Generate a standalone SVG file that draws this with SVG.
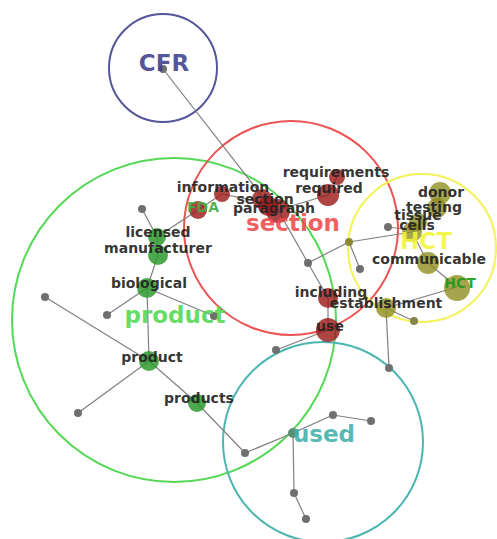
<svg xmlns="http://www.w3.org/2000/svg" width="497" height="539" viewBox="0 0 497 539">
  <style>
    .ring { fill: none; stroke-width: 2; }
    .edge { stroke: #7f7f7f; stroke-width: 1.2; fill: none; }
    .dot { fill: #6f6f6f; }
    .red { fill: #9a1717; fill-opacity: 0.8; }
    .grn { fill: #2f9a2f; fill-opacity: 0.85; }
    .olv { fill: #8f8f22; fill-opacity: 0.8; }
    .lbl { font-family: "DejaVu Sans", sans-serif; font-weight: bold; font-size: 14px; fill: #222222; fill-opacity: 0.92; text-anchor: middle; }
    .big { font-family: "DejaVu Sans", sans-serif; font-weight: bold; font-size: 23px; text-anchor: middle; fill-opacity: 0.88; }
  </style>
  <rect width="497" height="539" fill="#ffffff"/>

  <!-- community rings -->
  <g id="rings">
    <circle class="ring" cx="163" cy="68" r="54" stroke="#55559c"/>
    <circle class="ring" cx="174" cy="320" r="162" stroke="#55d855"/>
    <circle class="ring" cx="291" cy="228" r="107" stroke="#ec5454"/>
    <circle class="ring" cx="323" cy="442" r="100" stroke="#4bb5b0"/>
    <circle class="ring" cx="422" cy="248" r="74" stroke="#f2f25a"/>
  </g>

  <!-- connectors -->
  <g id="edges">
    <line class="edge" x1="163" y1="69" x2="266" y2="201"/>
    <line class="edge" x1="222" y1="194" x2="266" y2="203"/>
    <line class="edge" x1="198" y1="210" x2="222" y2="194"/>
    <line class="edge" x1="198" y1="210" x2="157" y2="237"/>
    <line class="edge" x1="157" y1="237" x2="142" y2="209"/>
    <line class="edge" x1="157" y1="237" x2="158" y2="255"/>
    <line class="edge" x1="158" y1="255" x2="147" y2="288"/>
    <line class="edge" x1="147" y1="288" x2="107" y2="315"/>
    <line class="edge" x1="147" y1="288" x2="149" y2="361"/>
    <line class="edge" x1="147" y1="288" x2="214" y2="316"/>
    <line class="edge" x1="149" y1="361" x2="45" y2="297"/>
    <line class="edge" x1="149" y1="361" x2="78" y2="413"/>
    <line class="edge" x1="149" y1="361" x2="197" y2="403"/>
    <line class="edge" x1="197" y1="403" x2="245" y2="453"/>
    <line class="edge" x1="245" y1="453" x2="293" y2="433"/>
    <line class="edge" x1="293" y1="433" x2="333" y2="415"/>
    <line class="edge" x1="333" y1="415" x2="371" y2="421"/>
    <line class="edge" x1="293" y1="433" x2="294" y2="493"/>
    <line class="edge" x1="294" y1="493" x2="306" y2="519"/>
    <line class="edge" x1="328" y1="330" x2="276" y2="350"/>
    <line class="edge" x1="328" y1="330" x2="328" y2="298"/>
    <line class="edge" x1="328" y1="298" x2="308" y2="263"/>
    <line class="edge" x1="308" y1="263" x2="278" y2="210"/>
    <line class="edge" x1="308" y1="263" x2="349" y2="242"/>
    <line class="edge" x1="349" y1="242" x2="360" y2="269"/>
    <line class="edge" x1="349" y1="242" x2="412" y2="232"/>
    <line class="edge" x1="388" y1="227" x2="412" y2="230"/>
    <line class="edge" x1="278" y1="210" x2="328" y2="195"/>
    <line class="edge" x1="328" y1="195" x2="337" y2="177"/>
    <line class="edge" x1="440" y1="193" x2="438" y2="208"/>
    <line class="edge" x1="438" y1="208" x2="412" y2="232"/>
    <line class="edge" x1="412" y1="232" x2="428" y2="263"/>
    <line class="edge" x1="428" y1="263" x2="457" y2="287"/>
    <line class="edge" x1="457" y1="287" x2="386" y2="308"/>
    <line class="edge" x1="386" y1="308" x2="414" y2="321"/>
    <line class="edge" x1="386" y1="308" x2="389" y2="368"/>
  </g>

  <!-- small connector nodes -->
  <g id="n-cfr"><circle class="dot" cx="163" cy="69" r="4"/></g>
  <g id="n-a"><circle class="dot" cx="142" cy="209" r="4"/></g>
  <g id="n-b"><circle class="dot" cx="107" cy="315" r="4"/></g>
  <g id="n-c"><circle class="dot" cx="214" cy="316" r="4"/></g>
  <g id="n-d"><circle class="dot" cx="45" cy="297" r="4"/></g>
  <g id="n-e"><circle class="dot" cx="78" cy="413" r="4"/></g>
  <g id="n-f"><circle class="dot" cx="245" cy="453" r="4"/></g>
  <g id="n-used"><circle cx="293" cy="433" r="5" fill="#5b8f73"/></g>
  <g id="n-g"><circle class="dot" cx="333" cy="415" r="4"/></g>
  <g id="n-h"><circle class="dot" cx="371" cy="421" r="4"/></g>
  <g id="n-i"><circle class="dot" cx="294" cy="493" r="4"/></g>
  <g id="n-j"><circle class="dot" cx="306" cy="519" r="4"/></g>
  <g id="n-k"><circle class="dot" cx="276" cy="350" r="4"/></g>
  <g id="n-l"><circle class="dot" cx="308" cy="263" r="4"/></g>
  <g id="n-m"><circle cx="349" cy="242" r="4" fill="#8a8a35"/></g>
  <g id="n-n"><circle class="dot" cx="360" cy="269" r="4"/></g>
  <g id="n-o"><circle class="dot" cx="388" cy="227" r="4"/></g>
  <g id="n-p"><circle cx="414" cy="321" r="4" fill="#85854a"/></g>
  <g id="n-q"><circle class="dot" cx="389" cy="368" r="4"/></g>

  <!-- section community -->
  <g id="n-information"><circle class="red" cx="222" cy="194" r="8"/></g>
  <g id="n-fda"><circle class="red" cx="198" cy="210" r="9"/></g>
  <g id="n-section"><circle class="red" cx="262" cy="199" r="10"/><circle class="red" cx="268" cy="206" r="10"/></g>
  <g id="n-paragraph"><circle class="red" cx="278" cy="211" r="12"/></g>
  <g id="n-requirements"><circle class="red" cx="337" cy="177" r="8"/></g>
  <g id="n-required"><circle class="red" cx="328" cy="195" r="11"/></g>
  <g id="n-including"><circle class="red" cx="328" cy="298" r="10"/></g>
  <g id="n-use"><circle class="red" cx="328" cy="330" r="12"/></g>

  <!-- product community -->
  <g id="n-licensed"><circle class="grn" cx="157" cy="237" r="9"/></g>
  <g id="n-manufacturer"><circle class="grn" cx="158" cy="255" r="10"/></g>
  <g id="n-biological"><circle class="grn" cx="147" cy="288" r="10"/></g>
  <g id="n-product"><circle class="grn" cx="149" cy="361" r="10"/></g>
  <g id="n-products"><circle class="grn" cx="197" cy="403" r="9"/></g>

  <!-- HCT community -->
  <g id="n-donor"><circle class="olv" cx="440" cy="193" r="11"/></g>
  <g id="n-testing"><circle class="olv" cx="437" cy="208" r="10"/></g>
  <g id="n-tissue"><circle class="olv" cx="418" cy="222" r="9"/></g>
  <g id="n-cells"><circle class="olv" cx="412" cy="232" r="10"/></g>
  <g id="n-communicable"><circle class="olv" cx="428" cy="263" r="11"/></g>
  <g id="n-hct"><circle class="olv" cx="457" cy="288" r="13"/></g>
  <g id="n-establishment"><circle class="olv" cx="386" cy="308" r="10"/></g>

  <!-- community titles -->
  <g id="titles">
    <text class="big" x="164" y="71" fill="#3d3d8c">CFR</text>
    <text class="big" x="293" y="231" fill="#ee4a4a">section</text>
    <text class="big" x="175" y="323" fill="#4fd84f">product</text>
    <text class="big" x="324" y="442" fill="#3fb0a9">used</text>
    <text class="big" x="426" y="249" fill="#f4f43a">HCT</text>
  </g>

  <!-- term labels -->
  <g id="labels">
    <text class="lbl" x="223" y="192">information</text>
    <text class="lbl" x="203" y="212" style="fill:#3fae3f">FDA</text>
    <text class="lbl" x="265" y="204">section</text>
    <text class="lbl" x="274" y="213">paragraph</text>
    <text class="lbl" x="336" y="177">requirements</text>
    <text class="lbl" x="329" y="193">required</text>
    <text class="lbl" x="331" y="297">including</text>
    <text class="lbl" x="330" y="331">use</text>
    <text class="lbl" x="158" y="237">licensed</text>
    <text class="lbl" x="158" y="253">manufacturer</text>
    <text class="lbl" x="149" y="288">biological</text>
    <text class="lbl" x="152" y="362">product</text>
    <text class="lbl" x="199" y="403">products</text>
    <text class="lbl" x="441" y="197">donor</text>
    <text class="lbl" x="434" y="212">testing</text>
    <text class="lbl" x="418" y="220">tissue</text>
    <text class="lbl" x="417" y="230">cells</text>
    <text class="lbl" x="429" y="264">communicable</text>
    <text class="lbl" x="460" y="288" style="fill:#1c9a1c">HCT</text>
    <text class="lbl" x="386" y="308">establishment</text>
  </g>
</svg>
